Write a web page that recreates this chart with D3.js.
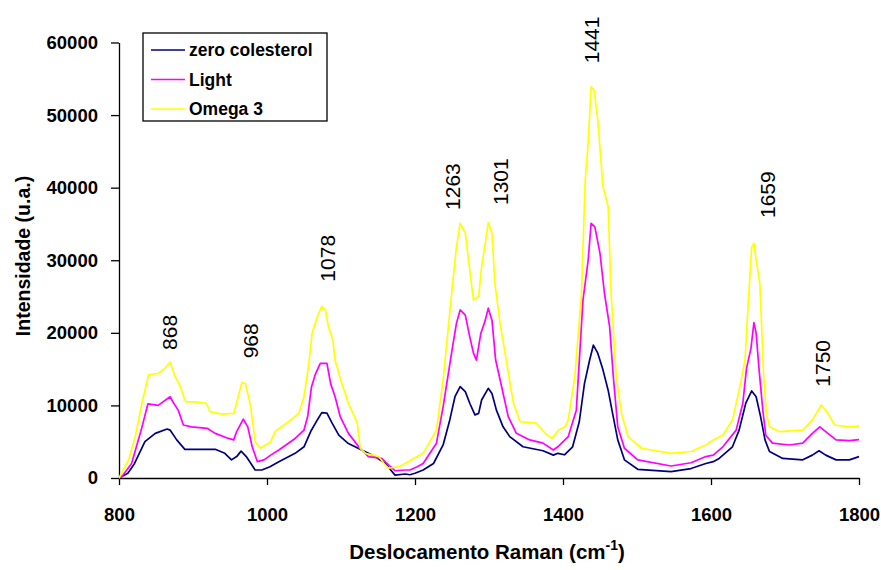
<!DOCTYPE html>
<html>
<head>
<meta charset="utf-8">
<script src="https://cdn.jsdelivr.net/npm/d3@7"></script>
<style>
  body { margin: 0; background: #fff; }
  svg { display: block; font-family: "Liberation Sans", Arial, sans-serif; }
</style>
</head>
<body>
<div id="chart"></div>
<script>
// Raman spectra: [shift cm-1, intensity]
var zeroColesterol = [
  [800,0],[812,650],[821,2000],[835,5000],[849,6150],[865,6750],[869,6600],[878,5250],
  [889,3950],[903,3950],[930,3950],[943,3400],[952,2500],[959,2950],[965,3700],[972,2950],
  [984,1100],[993,1100],[1004,1550],[1016,2250],[1038,3400],[1050,4300],[1059,6400],
  [1068,8000],[1074,9000],[1081,8950],[1088,7550],[1097,5900],[1110,4750],[1128,3850],
  [1146,2950],[1160,2000],[1173,400],[1187,550],[1193,450],[1200,650],[1211,1100],
  [1225,2000],[1238,4550],[1247,8000],[1254,11200],[1261,12600],[1268,11900],[1274,10300],
  [1281,8700],[1286,8900],[1290,10750],[1299,12350],[1304,11650],[1310,9350],[1319,7050],
  [1328,5700],[1346,4300],[1373,3750],[1387,3150],[1393,3400],[1402,3200],[1413,4300],
  [1422,7750],[1429,13000],[1436,16250],[1441,18300],[1447,17200],[1454,14900],[1461,12100],
  [1467,8900],[1474,5250],[1483,2500],[1501,1200],[1546,870],[1573,1300],[1593,2000],
  [1603,2250],[1611,2700],[1629,4300],[1638,6600],[1647,10300],[1655,12000],[1661,11200],
  [1667,8450],[1673,5250],[1679,3650],[1697,2700],[1724,2500],[1737,3150],[1746,3750],
  [1755,3150],[1769,2500],[1787,2500],[1800,2950]
];
var light = [
  [800,0],[804,200],[817,2000],[830,6600],[839,10200],[853,10000],[869,11200],[874,10300],
  [880,9350],[887,7300],[898,7050],[919,6850],[930,6150],[948,5450],[955,5250],[959,6400],
  [968,8100],[974,7050],[980,4300],[987,2250],[996,2500],[1005,3150],[1016,3850],[1038,5450],
  [1050,6600],[1055,8500],[1060,12500],[1065,14200],[1072,15800],[1081,15800],[1086,13000],
  [1092,11200],[1099,8450],[1110,6150],[1124,4300],[1137,2950],[1155,2700],[1167,1550],
  [1173,1000],[1187,1100],[1193,1100],[1203,1550],[1211,2000],[1229,4800],[1238,9800],
  [1250,17600],[1256,21300],[1261,23150],[1268,22450],[1274,19450],[1279,17200],[1283,16250],
  [1289,19950],[1295,21750],[1299,23400],[1304,21750],[1309,16250],[1317,12600],[1326,8450],
  [1337,6150],[1355,5250],[1373,4800],[1387,3850],[1393,4300],[1407,5700],[1418,9350],
  [1427,24500],[1434,30000],[1438,35100],[1443,34600],[1450,30950],[1456,25450],[1463,20850],
  [1468,13950],[1474,7050],[1483,4100],[1501,2500],[1546,1650],[1573,2100],[1593,2950],
  [1603,3150],[1616,4300],[1634,6600],[1643,10300],[1648,15100],[1654,17850],[1658,21400],
  [1661,19950],[1665,14900],[1670,9350],[1674,5900],[1683,4800],[1706,4550],[1724,4800],
  [1737,6150],[1747,7050],[1755,6400],[1769,5250],[1787,5150],[1800,5300]
];
var omega3 = [
  [800,0],[813,2500],[822,5700],[831,10300],[840,14200],[853,14400],[862,15100],[869,15950],
  [876,13950],[882,12800],[890,10500],[903,10500],[918,10300],[923,9150],[939,8800],[955,8900],
  [960,10750],[966,13150],[971,13000],[978,9800],[984,5000],[991,4100],[1005,5000],[1011,6400],
  [1029,7750],[1043,8900],[1050,11200],[1056,15350],[1061,19950],[1068,22250],[1074,23600],
  [1079,23150],[1083,20850],[1089,19000],[1092,16250],[1101,13050],[1110,10300],[1122,7550],
  [1126,4100],[1133,3400],[1151,2950],[1158,2000],[1164,1350],[1178,1550],[1191,2250],
  [1203,2950],[1211,3400],[1229,6600],[1238,13500],[1250,25900],[1256,31850],[1261,35100],
  [1268,33700],[1274,28650],[1279,24500],[1286,25000],[1290,29100],[1295,32350],[1299,35200],
  [1304,33700],[1308,26800],[1315,21300],[1324,15800],[1333,10300],[1342,7750],[1364,7550],
  [1376,6150],[1385,5450],[1394,6600],[1403,7050],[1407,8000],[1416,13950],[1425,25450],
  [1430,41050],[1434,46100],[1438,53900],[1442,53450],[1447,49350],[1454,40150],[1461,37400],
  [1465,25450],[1472,13950],[1479,8900],[1488,5700],[1506,4100],[1546,3400],[1573,3650],
  [1593,4550],[1603,5250],[1616,5900],[1629,8000],[1638,12100],[1646,16250],[1650,23600],
  [1655,31800],[1658,32350],[1661,30050],[1666,26800],[1671,14400],[1675,8900],[1679,7050],[1692,6400],
  [1724,6600],[1737,8000],[1749,10050],[1758,8900],[1767,7300],[1787,7050],[1800,7150]
];

var seriesNames = ["zero colesterol", "Light", "Omega 3"];
var seriesColors = ["#000080", "#FF00FF", "#FFFF00"];
var seriesData = [zeroColesterol, light, omega3];

// peak labels: text, where it sits (shift), bottom of text (intensity)
var peakLabels = ["868", "968", "1078", "1263", "1301", "1441", "1659", "1750"];
var peakLabelShift = [868, 978, 1082, 1250, 1315, 1439, 1676, 1750];
var peakLabelLevel = [17640, 16490, 27050, 36930, 37610, 57140, 35820, 12580];

var xTicks = [800, 1000, 1200, 1400, 1600, 1800];
var yTicks = [0, 10000, 20000, 30000, 40000, 50000, 60000];

var width = 881, height = 570;
var margin = {top: 42.5, right: 22, bottom: 92, left: 119};

var svg = d3.select("#chart").append("svg")
    .attr("width", width)
    .attr("height", height);

var x = d3.scaleLinear().domain([800, 1800]).range([margin.left, width - margin.right]);
var y = d3.scaleLinear().domain([0, 60000]).range([height - margin.bottom, margin.top]);

// axes
var xAxis = svg.append("g")
    .attr("transform", "translate(0," + y(0) + ")")
    .call(d3.axisBottom(x).tickValues(xTicks).tickFormat(d3.format("d"))
        .tickSize(7).tickSizeOuter(0).tickPadding(23));
var yAxis = svg.append("g")
    .attr("transform", "translate(" + x(800) + ",0)")
    .call(d3.axisLeft(y).tickValues(yTicks).tickFormat(d3.format("d"))
        .tickSize(8).tickSizeOuter(0).tickPadding(13));

[xAxis, yAxis].forEach(function (g) {
    g.selectAll("path, line").attr("stroke", "#000").attr("stroke-width", 1.3);
    g.selectAll("text")
        .attr("fill", "#000")
        .style("font-size", "18.5px")
        .style("font-weight", "bold")
        .style("font-family", "'Liberation Sans', Arial, sans-serif");
});

// spectra
var line = d3.line()
    .x(function (d) { return x(d[0]); })
    .y(function (d) { return y(d[1]); });

svg.append("g").selectAll("path")
    .data(seriesData)
    .enter().append("path")
    .attr("d", line)
    .attr("fill", "none")
    .attr("stroke", function (d, i) { return seriesColors[i]; })
    .attr("stroke-width", 1.7)
    .attr("stroke-linejoin", "round");

// peak labels
svg.append("g").selectAll("text")
    .data(peakLabels)
    .enter().append("text")
    .attr("transform", function (d, i) {
        return "translate(" + (x(peakLabelShift[i]) + 7.5) + "," + y(peakLabelLevel[i]) + ") rotate(-90)";
    })
    .style("font-size", "21px")
    .attr("fill", "#000")
    .text(function (d) { return d; });

// axis titles
svg.append("text")
    .attr("x", 487)
    .attr("y", 559)
    .attr("text-anchor", "middle")
    .style("font-size", "20.5px")
    .style("font-weight", "bold")
    .text("Deslocamento Raman (cm")
  .append("tspan")
    .attr("dy", -9)
    .style("font-size", "14px")
    .text("-1")
  .select(function () { return this.parentNode; })
  .append("tspan")
    .attr("dy", 9)
    .text(")");

svg.append("text")
    .attr("transform", "translate(30," + 256 + ") rotate(-90)")
    .attr("text-anchor", "middle")
    .style("font-size", "19.5px")
    .style("font-weight", "bold")
    .text("Intensidade (u.a.)");

// legend
var legend = svg.append("g").attr("transform", "translate(143,33)");
legend.append("rect")
    .attr("width", 184)
    .attr("height", 88)
    .attr("fill", "#fff")
    .attr("stroke", "#000")
    .attr("stroke-width", 1.3);

var item = legend.selectAll("g.item")
    .data(seriesNames)
    .enter().append("g")
    .attr("class", "item")
    .attr("transform", function (d, i) { return "translate(0," + (17 + i * 29.5) + ")"; });
item.append("line")
    .attr("x1", 8).attr("x2", 42)
    .attr("stroke", function (d, i) { return seriesColors[i]; })
    .attr("stroke-width", 1.7);
item.append("text")
    .attr("x", 46)
    .attr("dy", "0.36em")
    .style("font-size", "17.5px")
    .style("font-weight", "bold")
    .text(function (d) { return d; });
</script>
</body>
</html>
